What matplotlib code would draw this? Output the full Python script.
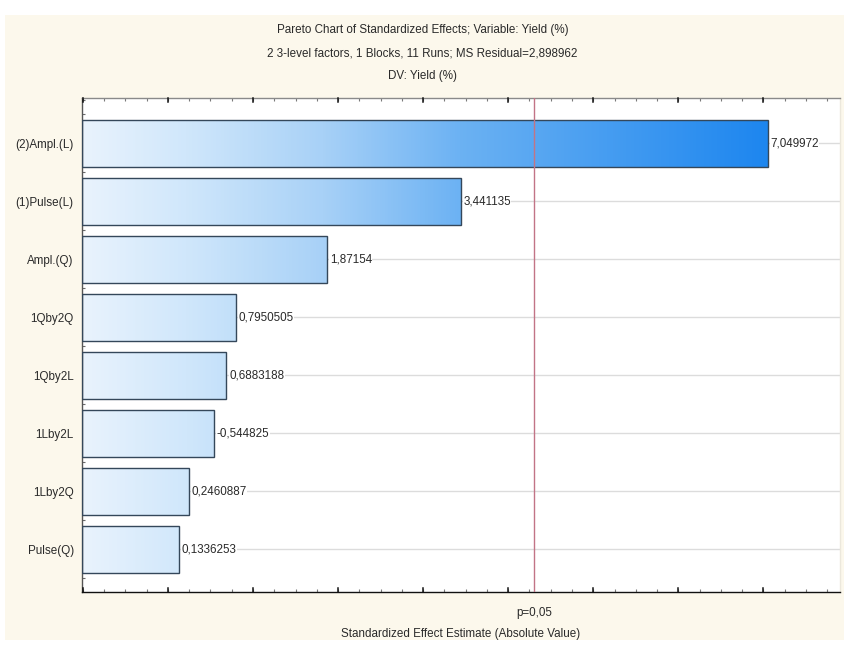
import numpy as np
import matplotlib
matplotlib.use("Agg")
import matplotlib.pyplot as plt
from matplotlib.colors import LinearSegmentedColormap
from matplotlib.patches import Rectangle
from matplotlib.ticker import MultipleLocator, FixedLocator

plt.rcParams['font.family'] = ['Liberation Sans', 'DejaVu Sans']

# standardized effects (signed), ordered by absolute size
factors = ["(2)Ampl.(L)", "(1)Pulse(L)", "Ampl.(Q)", "1Qby2Q",
           "1Qby2L", "1Lby2L", "1Lby2Q", "Pulse(Q)"]
effects = [7.049972, 3.441135, 1.87154, 0.7950505,
           0.6883188, -0.544825, 0.2460887, 0.1336253]
effect_labels = ["7,049972", "3,441135", "1,87154", "0,7950505",
                 "0,6883188", "-0,544825", "0,2460887", "0,1336253"]
t_crit = 4.302653   # t(0.975, df=2)

x_min, x_max = -1.01, 7.9
cream = "#fcf8ec"
txt = "#2a2a2a"
fs = 8.4

fig = plt.figure(figsize=(8.45, 6.45), dpi=100, facecolor="white")
fig.patches.append(Rectangle((5 / 845, 0.008), 840 / 845, 0.969,
                             transform=fig.transFigure, facecolor=cream,
                             edgecolor="none", zorder=-10))

ax = fig.add_axes([82 / 845, 1 - 592 / 645, 758 / 845, 494 / 645])
ax.set_facecolor("white")

ypos = np.arange(len(factors))
abs_eff = np.abs(effects)

# horizontal grid at each factor
for y in ypos:
    ax.axhline(y, color="#dcdcdc", lw=1, zorder=0)

# bars with a blue gradient that deepens along the x axis
blues = LinearSegmentedColormap.from_list(
    "bluefade", [(0.0, "#e9f3fd"), (0.15, "#d0e7fb"), (0.35, "#a8d1f7"),
                 (0.55, "#6cb2f3"), (1.0, "#1d86ef")])
grad = np.linspace(0, 1, 512).reshape(1, -1)
bar_end = 7.049972
for y, v in zip(ypos, abs_eff):
    bar = ax.barh(y, v - x_min, left=x_min, height=0.81,
                  facecolor="none", edgecolor="#34475a", lw=1.0, zorder=3)[0]
    img = ax.imshow(grad, cmap=blues, aspect="auto",
                    extent=[x_min, bar_end, y + 0.5, y - 0.5],
                    interpolation="bilinear", zorder=2)
    img.set_clip_path(bar)

for y, v, lab in zip(ypos, abs_eff, effect_labels):
    ax.text(v + 0.03, y, lab, va="center", ha="left", fontsize=fs,
            color=txt, zorder=4,
            bbox=dict(facecolor="white", edgecolor="none", pad=0.3))

# significance line
ax.axvline(t_crit, color="#c27486", lw=1, zorder=5)

ax.set_xlim(x_min, x_max)
ax.set_ylim(len(factors) - 0.26, -0.78)

ax.set_yticks(ypos)
ax.set_yticklabels(factors, fontsize=fs, color=txt)
ax.yaxis.set_minor_locator(MultipleLocator(0.25))

ax.xaxis.set_major_locator(FixedLocator([t_crit]))
ax.set_xticklabels(["p=0,05"], fontsize=fs, color=txt)
ax.xaxis.set_minor_locator(MultipleLocator(0.25))
ax.tick_params(axis="x", which="major", length=0, pad=11)
ax.tick_params(axis="x", which="minor", direction="in", length=2.5,
               top=True, bottom=True, color="#7a7a7a", width=0.8)
ax.tick_params(axis="y", which="both", direction="in", length=2.5,
               color="#6a6a6a", width=0.8, pad=6)
ax.tick_params(axis="y", which="major", length=3.5, color="#333333")

# integer marks slightly darker and longer
for xv in range(-1, 8):
    ax.plot([xv, xv], [0, 0.008], transform=ax.get_xaxis_transform(),
            color="#111111", lw=1.1, clip_on=False, zorder=6)
    ax.plot([xv, xv], [1, 0.992], transform=ax.get_xaxis_transform(),
            color="#111111", lw=1.1, clip_on=False, zorder=6)

ax.spines["bottom"].set_color("#111111")
ax.spines["left"].set_color("#555555")
ax.spines["top"].set_color("#8a8a8a")
ax.spines["right"].set_color("#ece8dc")
for s in ax.spines.values():
    s.set_linewidth(1)

ax.set_xlabel("Standardized Effect Estimate (Absolute Value)", fontsize=fs,
              color=txt, labelpad=6)

fig.text(0.5, 1 - 30 / 645, "Pareto Chart of Standardized Effects; Variable: Yield (%)",
         ha="center", va="center", fontsize=fs, color=txt)
fig.text(0.5, 1 - 53 / 645, "2 3-level factors, 1 Blocks, 11 Runs; MS Residual=2,898962",
         ha="center", va="center", fontsize=fs, color=txt)
fig.text(0.5, 1 - 76 / 645, "DV: Yield (%)",
         ha="center", va="center", fontsize=fs, color=txt)

fig.savefig("out.png", dpi=100, facecolor=fig.get_facecolor())
